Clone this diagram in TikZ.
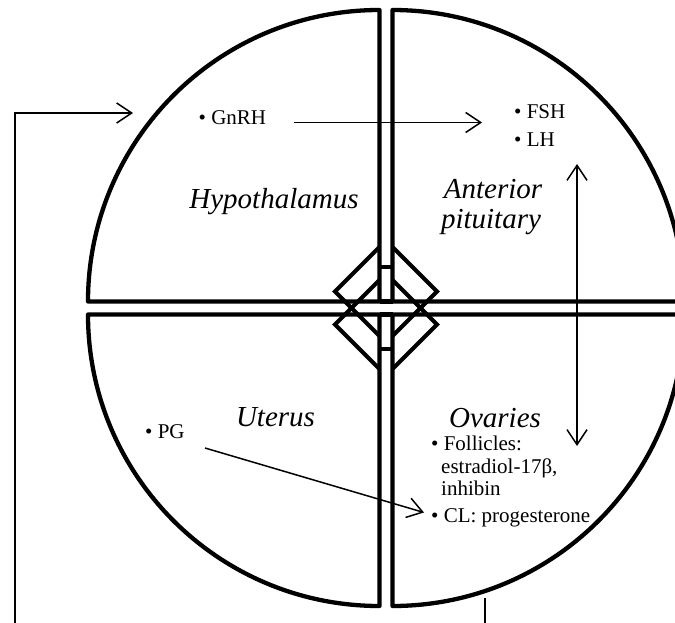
\documentclass[tikz,border=0pt]{standalone}
\usepackage{fontspec}
\setmainfont{Liberation Serif}
\usetikzlibrary{arrows.meta}

\tikzset{
    >={Straight Barb[length=15pt,width=20pt]},
    quad/.style={line width=4.3pt, line join=round},
    hub/.style={line width=4pt, line join=miter},
    hormone/.style={line width=1.5pt},
    organ/.style={font=\fontsize{29}{29}\selectfont\itshape, inner sep=0pt, anchor=base},
    item/.style={font=\fontsize{21}{21}\selectfont, inner sep=0pt, anchor=base west},
}

\begin{document}
\begin{tikzpicture}[x=1pt, y=-1pt]
    \useasboundingbox (0,0) rectangle (675,623);
    \clip (0,0) rectangle (675,623);

    \draw[quad] (379.5,301.5) -- (88,301.5) arc[start angle=180, end angle=270, radius=291.5] -- cycle;
    \draw[quad] (392.5,301.5) -- (392.5,10) arc[start angle=270, end angle=360, radius=291.5] -- cycle;
    \draw[quad] (392.5,314.5) -- (684,314.5) arc[start angle=0, end angle=90, radius=291.5] -- cycle;
    \draw[quad] (379.5,314.5) -- (379.5,606) arc[start angle=90, end angle=180, radius=291.5] -- cycle;
    \draw[quad] (379.5,301.5) -- (392.5,301.5);
    \draw[quad] (379.5,314.5) -- (392.5,314.5);

    \draw[hub] (379.5,247) -- (335,291.5) -- (379.5,336);
    \draw[hub] (392.5,247) -- (437,291.5) -- (392.5,336);
    \draw[hub] (379.5,280) -- (335,324.5) -- (379.5,369);
    \draw[hub] (392.5,280) -- (437,324.5) -- (392.5,369);
    \draw[hub] (379.5,267) -- (392.5,267);
    \draw[hub] (379.5,349) -- (392.5,349);

    \node[organ] (hypo) at (274,208) {Hypothalamus};
    \node[organ] (ant) at (493,198) {Anterior};
    \node[organ] (pit) at (491,228) {pituitary};
    \node[organ] (uterus) at (275.5,426) {Uterus};
    \node[organ] (ovaries) at (495,427) {Ovaries};

    \node[item] (gnrh) at (198.5,125) {\textbullet\ GnRH};
    \node[item] (fsh) at (514,119) {\textbullet\ FSH};
    \node[item] (lh) at (514,147) {\textbullet\ LH};
    \node[item] (pg) at (145,438) {\textbullet\ PG};
    \node[item] (foll) at (431,450) {\textbullet\ Follicles:};
    \node[item] (estr) at (441,473) {estradiol-17β,};
    \node[item] (inh) at (441,495) {inhibin};
    \node[item] (cl) at (431,522) {\textbullet\ CL: progesterone};

    \coordinate (gnrhout) at (294,122.5);
    \coordinate (fshin) at (482,122.5);
    \coordinate (pgout) at (205,448);
    \coordinate (clin) at (424,512.5);
    \coordinate (axtop) at (577,164);
    \coordinate (axbot) at (577,446);
    \coordinate (fbbot) at (15,640);
    \coordinate (hypoin) at (133,113);
    \coordinate (ovout) at (485,598);
    \coordinate (ovdown) at (485,640);

    \draw[hormone, ->] (gnrhout) -- (fshin);
    \draw[hormone, ->] (pgout) -- (clin);
    \draw[hormone, <->] (axtop) -- (axbot);
    \draw[hormone, ->] (fbbot) |- (hypoin);
    \draw[hormone] (ovout) -- (ovdown);
\end{tikzpicture}
\end{document}
